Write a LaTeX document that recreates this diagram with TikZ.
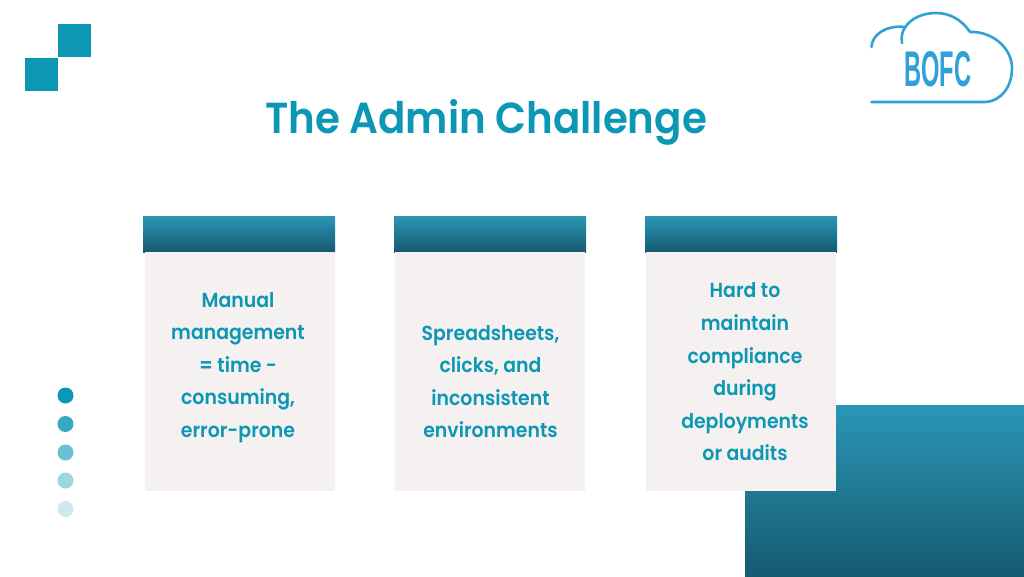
\documentclass[tikz,border=0pt]{standalone}
\usepackage{fontspec}
\setmainfont{Poppins}[BoldFont={* SemiBold},FakeStretch=0.93]
\newfontfamily\logofont{Liberation Sans}
\definecolor{teal1}{HTML}{0C97B4}
\definecolor{gradtop}{HTML}{2A96B6}
\definecolor{gradbot}{HTML}{165A70}
\definecolor{cardbg}{HTML}{F5F1F1}
\definecolor{logoblue}{HTML}{30A0D8}
\tikzset{
  sq/.style={fill=teal1,draw=none,minimum size=33pt,inner sep=0pt,outer sep=0pt},
  dot/.style={circle,fill=teal1,draw=none,minimum size=16pt,inner sep=0pt},
  head/.style={top color=gradtop,bottom color=gradbot,draw=none,minimum width=192pt,minimum height=36pt,inner sep=0pt,outer sep=0pt},
  card/.style={fill=cardbg,draw=none,minimum width=190pt,minimum height=239pt,inner sep=0pt,outer sep=0pt},
  cardtext/.style={text=teal1,align=center,font=\bfseries\fontsize{20.3}{32.6}\selectfont,inner sep=0pt},
  cloud/.style={draw=logoblue,line width=2.6pt,line cap=round,line join=round}
}
\begin{document}
\begin{tikzpicture}[x=1pt,y=-1pt]
\useasboundingbox (0,0) rectangle (1024,576);
\fill[white] (0,0) rectangle (1024,576);
\node[sq] (sqa) at (74.5,40.5) {};
\node[sq] (sqb) at (41,74) {};
\node[dot] (d1) at (65.5,395.5) {};
\node[dot,fill opacity=.82] (d2) at (65.5,424) {};
\node[dot,fill opacity=.6] (d3) at (65.5,452.5) {};
\node[dot,fill opacity=.4] (d4) at (65.5,480.5) {};
\node[dot,fill opacity=.2] (d5) at (65.5,509) {};
\node[top color=gradtop,bottom color=gradbot,draw=none,minimum width=279pt,minimum height=171pt,inner sep=0pt,outer sep=0pt] (corner) at (884.5,490.5) {};
\node[text=teal1,inner sep=0pt,font=\bfseries\fontsize{43.4}{50}\selectfont] (title) at (486,122) {The Admin Challenge};
\node[head] (h1) at (239,234) {};
\node[head] (h2) at (490,234) {};
\node[head] (h3) at (741,234) {};
\node[card] (c1) at (239.5,371.5) {};
\node[card] (c2) at (490,371.5) {};
\node[card] (c3) at (741,371.5) {};
\node[cardtext] (t1) at (238,367.5) {Manual\\management\\= time -\\consuming,\\error-prone};
\node[cardtext] (t2) at (490.5,381.5) {Spreadsheets,\\clicks, and\\inconsistent\\environments};
\node[cardtext] (t3) at (745,372) {Hard to\\maintain\\compliance\\during\\deployments\\or audits};
% logo
\draw[cloud] (871.5,102) -- (985,102) .. controls (1002,101) and (1012,86) .. (1012,68)
  .. controls (1012,48) and (992,31) .. (970,32)
  .. controls (962,20) and (950,13) .. (936,13)
  .. controls (923,13) and (912,18) .. (906,26)
  .. controls (902,31) and (901,37) .. (902,43);
\draw[cloud] (871.5,47) .. controls (872,35) and (885,25) .. (905,27);
\node[text=logoblue,inner sep=0pt] (logo) at (938,69.5) {\resizebox{67pt}{35pt}{\logofont\bfseries BOFC}};
\end{tikzpicture}
\end{document}
